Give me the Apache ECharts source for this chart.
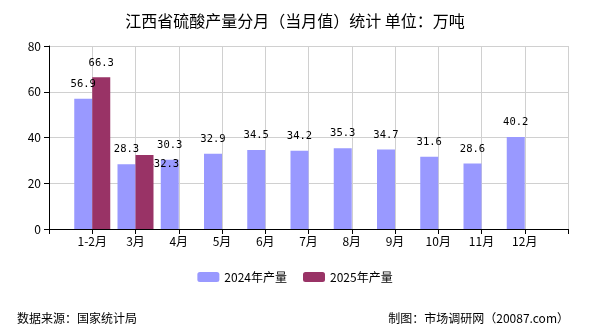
<!DOCTYPE html>
<html><head><meta charset="utf-8">
<script src="https://cdn.jsdelivr.net/npm/echarts@6/dist/echarts.min.js"></script>
<style>html,body{margin:0;padding:0;background:#fff}#c{width:590px;height:330px}</style>
</head><body><div id="c"></div>
<script>
const categories = ['', '1-2月', '3月', '4月', '5月', '6月', '7月', '8月', '9月', '10月', '11月', '12月', ''];
const values2024 = [null, 56.9, 28.3, 30.3, 32.9, 34.5, 34.2, 35.3, 34.7, 31.6, 28.6, 40.2, null];
const values2025 = [null, 66.3, 32.3, null, null, null, null, null, null, null, null, null, null];
const yTicks = {min: 0, max: 80, interval: 20};
const movedLabelIndex = 2;

const chart = echarts.init(document.getElementById('c'));
const cjk = '"Noto Sans CJK SC", sans-serif';
const lbl = {show: true, position: 'top', distance: 9, color: '#000', fontSize: 10.5, fontFamily: '"DejaVu Sans Mono", monospace'};
const data2025 = values2025.map((v, i) => i === movedLabelIndex
  ? v : {value: v, labelLine: {show: false}});
chart.setOption({
  animation: false,
  backgroundColor: '#fff',
  title: [
    {text: '江西省硫酸产量分月（当月值）统计 单位：万吨', left: 'center', top: 8,
     textStyle: {fontSize: 16, fontWeight: 'normal', color: '#000', fontFamily: cjk}},
    {text: '数据来源：国家统计局', left: 12, top: 307, textStyle: {fontSize: 12, fontWeight: 'normal', color: '#000', fontFamily: cjk}},
    {text: '制图：市场调研网（20087.com）', right: 16, top: 307, textStyle: {fontSize: 12, fontWeight: 'normal', color: '#000', fontFamily: cjk}}
  ],
  legend: {
    bottom: 42, left: 'center', itemWidth: 22, itemHeight: 10, itemGap: 16,
    textStyle: {fontSize: 12, color: '#000', fontFamily: cjk},
    data: ['2024年产量', '2025年产量']
  },
  grid: {left: 49, right: 22, top: 46, bottom: 101, containLabel: false},
  xAxis: {
    type: 'category', data: categories, boundaryGap: false,
    axisLine: {lineStyle: {color: '#000'}},
    axisTick: {show: true, length: 5, lineStyle: {color: '#000'}},
    axisLabel: {color: '#000', fontSize: 12, fontFamily: cjk, margin: 6, interval: 0},
    splitLine: {show: true, lineStyle: {color: '#d0d0d0'}}
  },
  yAxis: {
    type: 'value', min: yTicks.min, max: yTicks.max, interval: yTicks.interval,
    axisLine: {show: true, lineStyle: {color: '#000'}},
    axisTick: {show: true, length: 5, lineStyle: {color: '#000'}},
    axisLabel: {color: '#000', fontSize: 12, fontFamily: cjk, margin: 8},
    splitLine: {show: true, lineStyle: {color: '#d0d0d0'}}
  },
  series: [
    {name: '2024年产量', type: 'bar', data: values2024, barWidth: 18, barGap: '0%',
     itemStyle: {color: '#9999ff'}, label: lbl},
    {name: '2025年产量', type: 'bar', data: data2025, barWidth: 18, barGap: '0%',
     itemStyle: {color: '#993366'}, label: lbl,
     labelLine: {show: true, lineStyle: {color: '#000', width: 1}},
     labelLayout: function (p) { if (p.dataIndex === movedLabelIndex) return {dx: 22, dy: 24}; return {}; }}
  ]
});
</script></body></html>
